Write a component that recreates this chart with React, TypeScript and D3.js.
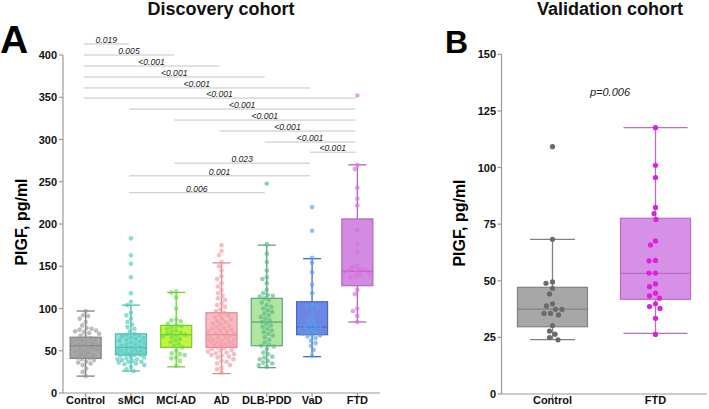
import React from "react";
import * as d3 from "d3";

const categoriesA = ["Control", "sMCI", "MCI-AD", "AD", "DLB-PDD", "VaD", "FTD"];
const yTicksA = [0, 50, 100, 150, 200, 250, 300, 350, 400];

const controlA = [97, 92, 91, 88, 84, 80, 77, 76, 75, 74, 73, 72, 71, 70, 68, 66, 65, 64, 63, 62, 61, 60, 59, 58, 57, 56, 55, 54, 53, 52, 51, 50, 49, 48, 46, 45, 44, 42, 41, 40, 39, 37, 36, 35, 33, 29, 25, 20];
const smciA = [183, 163, 153, 137, 118, 108, 104, 95, 92, 88, 84, 81, 78, 76, 73, 70, 69, 68, 67, 66, 65, 64, 63, 62, 61, 60, 59, 58, 57, 56, 55, 54, 53, 53, 52, 51, 50, 50, 49, 48, 48, 47, 46, 46, 45, 45, 44, 43, 42, 41, 40, 40, 39, 38, 37, 37, 36, 35, 34, 33, 31, 28, 26];
const mciadA = [120, 119, 113, 100, 87, 86, 85, 82, 80, 79, 78, 76, 74, 72, 71, 70, 69, 68, 67, 66, 64, 62, 60, 58, 56, 54, 50, 47, 46, 45, 42, 41, 38, 32];
const adA = [175, 168, 163, 155, 150, 145, 138, 135, 130, 126, 122, 118, 115, 112, 110, 106, 104, 102, 99, 97, 95, 93, 92, 90, 88, 87, 85, 84, 82, 81, 80, 78, 77, 76, 75, 74, 73, 72, 71, 70, 69, 68, 67, 66, 65, 64, 64, 63, 62, 61, 60, 60, 59, 58, 57, 57, 56, 55, 55, 54, 53, 52, 51, 50, 49, 48, 47, 46, 45, 44, 43, 42, 40, 38, 37, 35, 33, 30, 28, 24];
const dlbA = [248, 176, 165, 155, 145, 137, 135, 130, 122, 118, 116, 115, 114, 112, 110, 107, 104, 102, 100, 98, 96, 94, 92, 90, 88, 86, 84, 82, 80, 78, 76, 74, 72, 70, 68, 66, 63, 60, 57, 56, 55, 52, 48, 46, 43, 42, 40, 38, 36, 35, 33, 31];
const vadA = [220, 192, 160, 154, 143, 128, 118, 104, 103, 103, 96, 90, 86, 84, 80, 79, 78, 77, 76, 75, 73, 72, 70, 69, 68, 67, 65, 62, 59, 56, 51, 44];
const ftdA = [352, 270, 265, 243, 230, 222, 193, 177, 167, 150, 149, 146, 145, 145, 144, 143, 141, 140, 138, 137, 122, 117, 100, 97, 91, 84];
const valuesA = [controlA, smciA, mciadA, adA, dlbA, vadA, ftdA];

const whiskerLowA = [20, 26, 31, 23, 30, 43, 84];
const q1A = [41, 45, 54, 54, 56, 69, 127];
const medianA = [56, 54, 69, 69, 84, 78, 144];
const q3A = [66, 70, 80, 95, 112, 108, 206];
const whiskerHighA = [97, 104, 119, 154, 175, 159, 270];

const fillA = ["#a9a9a9", "#8fe2db", "#c3f43c", "#f6bcc4", "#b0e6a0", "#6e86e3", "#d28be1"];
const strokeA = ["#7e7e7e", "#52b9b1", "#7acb2c", "#de8a93", "#5aa67a", "#4766cc", "#b463c9"];
const dotA = ["#9a9a9a", "#55c6bd", "#66dc50", "#f29aa5", "#5bb784", "#55a0ea", "#df6ae0"];

// comparisons: from index, to index, p-value label, y position (data units)
const compFrom = [0, 0, 0, 0, 0, 0, 1, 2, 3, 4, 5, 2, 1, 1];
const compTo = [1, 2, 3, 4, 5, 6, 6, 6, 6, 6, 6, 5, 5, 4];
const compLabel = ["0.019", "0.005", "<0.001", "<0.001", "<0.001", "<0.001", "<0.001", "<0.001", "<0.001", "<0.001", "<0.001", "0.023", "0.001", "0.006"];
const compY = [413, 400, 387, 374, 361, 349, 336, 323, 310, 297, 285, 272, 257, 237];

const categoriesB = ["Control", "FTD"];
const yTicksB = [0, 25, 50, 75, 100, 125, 150];
const controlB = [109.2, 68.3, 49.5, 48.9, 46.7, 44.2, 39.8, 38.9, 37.4, 37.4, 35.6, 35.6, 34.9, 30.2, 27.8, 26.4, 24.9, 23.9];
const ftdB = [117.6, 101, 95.6, 82.4, 79.7, 77.1, 67.6, 65.8, 59, 58.8, 53.4, 53.4, 48.6, 47.4, 44.5, 43.3, 42.3, 39.8, 38.6, 37.8, 33.4, 26.3];
const valuesB = [controlB, ftdB];
const whiskerLowB = [24, 26.8];
const q1B = [29.7, 41.8];
const medianB = [37.5, 53.3];
const q3B = [47.1, 77.6];
const whiskerHighB = [68.3, 117.6];
const fillB = ["#a7a7a7", "#d690e6"];
const strokeB = ["#828282", "#b96ccc"];
const dotB = ["#6a6a6a", "#e01ee0"];
const capB = [45, 64];

const FONT = "'Liberation Sans', Arial, Helvetica, sans-serif";

function swarm(values: number[], y: (v: number) => number, cx: number, minDist: number, maxOff: number) {
  const pts = values.map((v) => ({ v, y: y(v) })).sort((a, b) => a.y - b.y);
  const placed: { x: number; y: number }[] = [];
  for (const p of pts) {
    let bx = cx;
    let bestClear = -1;
    for (let k = 0; k < 400; k++) {
      const off = (k % 2 === 0 ? 1 : -1) * Math.ceil(k / 2) * 0.5;
      if (Math.abs(off) > maxOff) break;
      const x = cx + off;
      let minD = Infinity;
      for (const q of placed) minD = Math.min(minD, (q.x - x) ** 2 + (q.y - p.y) ** 2);
      if (minD >= minDist * minDist) {
        bx = x;
        break;
      }
      if (minD > bestClear) {
        bestClear = minD;
        bx = x;
      }
    }
    placed.push({ x: bx, y: p.y });
  }
  return placed;
}

function PanelA() {
  const x = d3.scaleBand().domain(categoriesA).range([63, 380]).padding(0);
  const y = d3.scaleLinear().domain([0, 400]).range([393, 55]);
  const bw = 31;
  const cap = 18;
  const axisColor = "#9a9a9a";
  const cxOf = (i: number) => (x(categoriesA[i]) as number) + x.bandwidth() / 2;
  return (
    <g>
      <text x={0} y={53} fontFamily={FONT} fontWeight="bold" fontSize={39} fill="#000">A</text>
      <text x={221} y={15} textAnchor="middle" fontFamily={FONT} fontWeight="bold" fontSize={18} fill="#111">Discovery cohort</text>
      <text transform={`translate(27,222) rotate(-90)`} textAnchor="middle" fontFamily={FONT} fontWeight="bold" fontSize={16} fill="#000">PIGF, pg/ml</text>
      <line x1={63} x2={63} y1={y(0)} y2={y(400)} stroke={axisColor} strokeWidth={1.2} />
      <line x1={63} x2={380} y1={y(0)} y2={y(0)} stroke={axisColor} strokeWidth={1.2} />
      {yTicksA.map((t) => (
        <g key={t}>
          <line x1={59} x2={63} y1={y(t)} y2={y(t)} stroke={axisColor} strokeWidth={1.2} />
          <text x={57} y={y(t) + 4} textAnchor="end" fontFamily={FONT} fontWeight="bold" fontSize={11} fill="#111">{t}</text>
        </g>
      ))}
      {categoriesA.map((c, i) => (
        <g key={c}>
          <line x1={cxOf(i)} x2={cxOf(i)} y1={y(0)} y2={y(0) + 4} stroke={axisColor} strokeWidth={1.2} />
          <text x={cxOf(i)} y={404} textAnchor="middle" fontFamily={FONT} fontWeight="bold" fontSize={11} fill="#111">{c}</text>
        </g>
      ))}
      {compFrom.map((f, k) => {
        const x1 = cxOf(f) - 2;
        const x2 = cxOf(compTo[k]) - 2;
        return (
          <g key={"c" + k}>
            <line x1={x1} x2={x2} y1={y(compY[k])} y2={y(compY[k])} stroke="#c4c4c4" strokeWidth={1} />
            <text x={(x1 + x2) / 2} y={y(compY[k]) - 1} textAnchor="middle" fontFamily={FONT} fontStyle="italic" fontSize={8.6} fill="#222">{compLabel[k]}</text>
          </g>
        );
      })}
      {categoriesA.map((c, i) => {
        const cx = cxOf(i);
        return (
          <g key={"b" + c}>
            <line x1={cx} x2={cx} y1={y(whiskerLowA[i])} y2={y(q1A[i])} stroke={strokeA[i]} strokeWidth={1.3} />
            <line x1={cx} x2={cx} y1={y(q3A[i])} y2={y(whiskerHighA[i])} stroke={strokeA[i]} strokeWidth={1.3} />
            <line x1={cx - cap / 2} x2={cx + cap / 2} y1={y(whiskerLowA[i])} y2={y(whiskerLowA[i])} stroke={strokeA[i]} strokeWidth={1.3} />
            <line x1={cx - cap / 2} x2={cx + cap / 2} y1={y(whiskerHighA[i])} y2={y(whiskerHighA[i])} stroke={strokeA[i]} strokeWidth={1.3} />
            <rect x={cx - bw / 2} y={y(q3A[i])} width={bw} height={y(q1A[i]) - y(q3A[i])} fill={fillA[i]} stroke={strokeA[i]} strokeWidth={1.2} />
            <line x1={cx - bw / 2} x2={cx + bw / 2} y1={y(medianA[i])} y2={y(medianA[i])} stroke={strokeA[i]} strokeWidth={1.3} />
          </g>
        );
      })}
      {valuesA.map((vals, i) =>
        swarm(vals, y, cxOf(i), 4.8, 13.5).map((p, j) => (
          <circle key={i + "-" + j} cx={p.x} cy={p.y} r={2.3} fill={dotA[i]} fillOpacity={0.65} />
        ))
      )}
    </g>
  );
}

function PanelB() {
  const x = d3.scaleBand().domain(categoriesB).range([501, 707]).padding(0);
  const y = d3.scaleLinear().domain([0, 150]).range([394, 54.3]);
  const bw = 70;
  const axisColor = "#9a9a9a";
  const cxOf = (i: number) => (x(categoriesB[i]) as number) + x.bandwidth() / 2;
  return (
    <g>
      <text x={445} y={53} fontFamily={FONT} fontWeight="bold" fontSize={32} fill="#000">B</text>
      <text x={610} y={15} textAnchor="middle" fontFamily={FONT} fontWeight="bold" fontSize={18} fill="#111">Validation cohort</text>
      <text transform={`translate(465,223) rotate(-90)`} textAnchor="middle" fontFamily={FONT} fontWeight="bold" fontSize={16} fill="#000">PIGF, pg/ml</text>
      <line x1={501.5} x2={501.5} y1={y(0)} y2={y(150)} stroke={axisColor} strokeWidth={1.2} />
      <line x1={501.5} x2={707} y1={y(0)} y2={y(0)} stroke={axisColor} strokeWidth={1.2} />
      {yTicksB.map((t) => (
        <g key={t}>
          <line x1={497.5} x2={501.5} y1={y(t)} y2={y(t)} stroke={axisColor} strokeWidth={1.2} />
          <text x={496} y={y(t) + 4} textAnchor="end" fontFamily={FONT} fontWeight="bold" fontSize={11} fill="#111">{t}</text>
        </g>
      ))}
      {categoriesB.map((c, i) => (
        <g key={c}>
          <line x1={cxOf(i)} x2={cxOf(i)} y1={y(0)} y2={y(0) + 4} stroke={axisColor} strokeWidth={1.2} />
          <text x={cxOf(i)} y={404} textAnchor="middle" fontFamily={FONT} fontWeight="bold" fontSize={11} fill="#111">{c}</text>
        </g>
      ))}
      <text x={610} y={96} textAnchor="middle" fontFamily={FONT} fontStyle="italic" fontSize={11} fill="#222">p=0.006</text>
      {categoriesB.map((c, i) => {
        const cx = cxOf(i);
        const cap = capB[i];
        return (
          <g key={"b" + c}>
            <line x1={cx} x2={cx} y1={y(whiskerLowB[i])} y2={y(q1B[i])} stroke={strokeB[i]} strokeWidth={1.3} />
            <line x1={cx} x2={cx} y1={y(q3B[i])} y2={y(whiskerHighB[i])} stroke={strokeB[i]} strokeWidth={1.3} />
            <line x1={cx - cap / 2} x2={cx + cap / 2} y1={y(whiskerLowB[i])} y2={y(whiskerLowB[i])} stroke={strokeB[i]} strokeWidth={1.3} />
            <line x1={cx - cap / 2} x2={cx + cap / 2} y1={y(whiskerHighB[i])} y2={y(whiskerHighB[i])} stroke={strokeB[i]} strokeWidth={1.3} />
            <rect x={cx - bw / 2} y={y(q3B[i])} width={bw} height={y(q1B[i]) - y(q3B[i])} fill={fillB[i]} stroke={strokeB[i]} strokeWidth={1.2} />
            <line x1={cx - bw / 2} x2={cx + bw / 2} y1={y(medianB[i])} y2={y(medianB[i])} stroke={strokeB[i]} strokeWidth={1.3} />
          </g>
        );
      })}
      {valuesB.map((vals, i) =>
        swarm(vals, y, cxOf(i), 6.2, 20).map((p, j) => (
          <circle key={i + "-" + j} cx={p.x} cy={p.y} r={2.6} fill={dotB[i]} />
        ))
      )}
    </g>
  );
}

export default function App() {
  return (
    <svg width={709} height={409} style={{ position: "absolute", left: 0, top: 0, background: "#fff" }}>
      <rect width={709} height={409} fill="#fff" />
      <PanelA />
      <PanelB />
    </svg>
  );
}
